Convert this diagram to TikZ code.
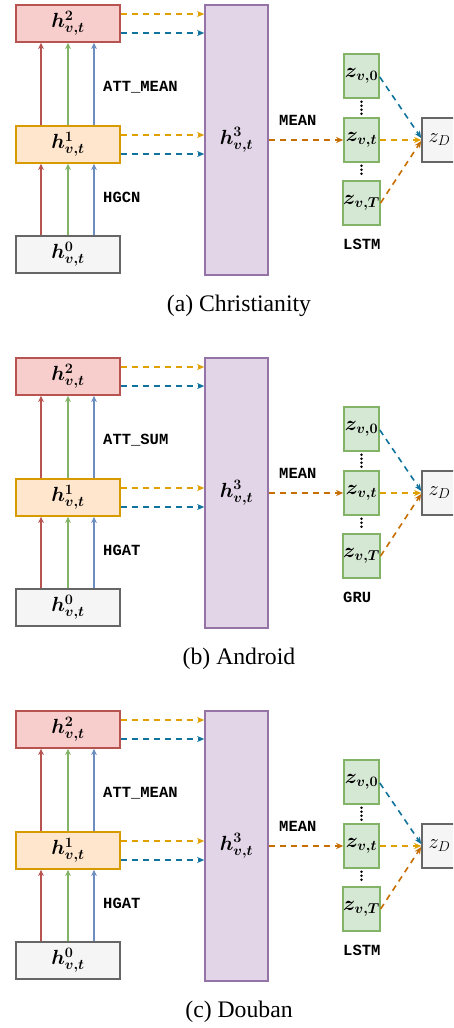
\RequirePackage{fix-cm}
\documentclass[tikz,border=0pt]{standalone}
\usepackage[no-math]{fontspec}
\usepackage{bm}
\newfontfamily\capfont{Liberation Serif}
\newfontfamily\lblfont{Liberation Mono}
\usetikzlibrary{arrows.meta}
\definecolor{redS}{HTML}{B85450}\definecolor{redF}{HTML}{F8CECC}
\definecolor{orS}{HTML}{D79B00}\definecolor{orF}{HTML}{FFE6CC}
\definecolor{grayS}{HTML}{666666}\definecolor{grayF}{HTML}{F5F5F5}
\definecolor{purS}{HTML}{9673A6}\definecolor{purF}{HTML}{E1D5E7}
\definecolor{grnS}{HTML}{82B366}\definecolor{grnF}{HTML}{D5E8D4}
\definecolor{blueS}{HTML}{6C8EBF}
\definecolor{dashY}{HTML}{E0A000}
\definecolor{dashB}{HTML}{10739E}
\definecolor{dashO}{HTML}{C76E00}
\tikzset{
  mathf/.style={font=\fontsize{20.5}{24}\selectfont},
  hbox/.style={draw, line width=1.6pt, inner sep=0pt, minimum width=104pt, minimum height=37pt, mathf},
  zbox/.style={draw=grnS, fill=grnF, line width=1.6pt, inner sep=0pt, minimum width=35pt, minimum height=44pt, mathf},
  varr/.style={line width=1.4pt, -{Stealth[length=6pt,width=5.5pt,inset=1.5pt]}},
  darr/.style={line width=1.6pt, dash pattern=on 6pt off 5pt, -{Stealth[length=7pt,width=6pt,inset=2pt]}},
  dotline/.style={line width=2.8pt, dash pattern=on 0pt off 4pt, line cap=round, shorten <=3pt, shorten >=3pt},
  lbl/.style={inner sep=0pt, anchor=west, font=\lblfont\bfseries\fontsize{15.5}{18}\selectfont},
  capst/.style={inner sep=0pt, font=\capfont\fontsize{23.7}{28}\selectfont}
}
\begin{document}
\begin{tikzpicture}[x=1pt,y=-1pt]
\clip (0,0) rectangle (453,1028);
\fill[white] (0,0) rectangle (453,1028);
\foreach \p/\off/\agg/\gnn/\rnn/\cap in {a/0/ATT\_MEAN/HGCN/LSTM/{(a) Christianity}, b/353/ATT\_SUM/HGAT/GRU/{(b) Android}, c/706/ATT\_MEAN/HGAT/LSTM/{(c) Douban}}{
\begin{scope}[shift={(0,\off)}]
  \node[hbox, draw=redS, fill=redF] (h2\p) at (68,23.5) {$\bm{h^{2}_{v,t}}$};
  \node[hbox, draw=orS, fill=orF] (h1\p) at (68,144.5) {$\bm{h^{1}_{v,t}}$};
  \node[hbox, draw=grayS, fill=grayF] (h0\p) at (68,254.5) {$\bm{h^{0}_{v,t}}$};
  \node[draw=purS, fill=purF, line width=1.6pt, inner sep=0pt, minimum width=63pt, minimum height=270pt, mathf] (h3\p) at (236.5,140) {$\bm{h^{3}_{v,t}}$};
  \node[zbox] (z0\p) at (361.5,76) {$\bm{z_{v,0}}$};
  \node[zbox] (zt\p) at (361.5,140) {$\bm{z_{v,t}}$};
  \node[zbox] (zT\p) at (361.5,203) {$\bm{z_{v,T}}$};
  \node[draw=grayS, fill=grayF, line width=1.6pt, inner sep=0pt, minimum width=35pt, minimum height=44pt, mathf, text=black] (zD\p) at (439.5,140) {$z_D$};
  \foreach \dx/\col in {-27/redS, 0/grnS, 26/blueS}{
    \draw[varr, draw=\col] ([xshift=\dx pt]h0\p.north) -- ([xshift=\dx pt]h1\p.south);
    \draw[varr, draw=\col] ([xshift=\dx pt]h1\p.north) -- ([xshift=\dx pt]h2\p.south);
  }
  \draw[darr, dashY] ([yshift=9.5pt]h2\p.east) -- ([yshift=9.5pt]h2\p.east -| h3\p.west);
  \draw[darr, dashB] ([yshift=-9.5pt]h2\p.east) -- ([yshift=-9.5pt]h2\p.east -| h3\p.west);
  \draw[darr, dashY] ([yshift=9.5pt]h1\p.east) -- ([yshift=9.5pt]h1\p.east -| h3\p.west);
  \draw[darr, dashB] ([yshift=-9.5pt]h1\p.east) -- ([yshift=-9.5pt]h1\p.east -| h3\p.west);
  \draw[darr, dashO] (h3\p.east) -- (zt\p.west);
  \draw[darr, dashB] ([yshift=-1pt]z0\p.east) -- ([yshift=2pt]zD\p.west);
  \draw[darr, dashY] (zt\p.east) -- (zD\p.west);
  \draw[darr, dashO] (zT\p.east) -- ([yshift=-1pt]zD\p.west);
  \draw[dotline] (z0\p.south) -- (zt\p.north);
  \draw[dotline] (zt\p.south) -- (zT\p.north);
  \node[lbl] (agg\p) at (103,87) {\agg};
  \node[lbl] (gnn\p) at (103,197) {\gnn};
  \node[lbl] (mean\p) at (279,120) {MEAN};
  \node[lbl] (rnn\p) at (343,244) {\rnn};
  \node[capst] (cap\p) at (239,306) {\cap};
\end{scope}
}
\end{tikzpicture}
\end{document}
